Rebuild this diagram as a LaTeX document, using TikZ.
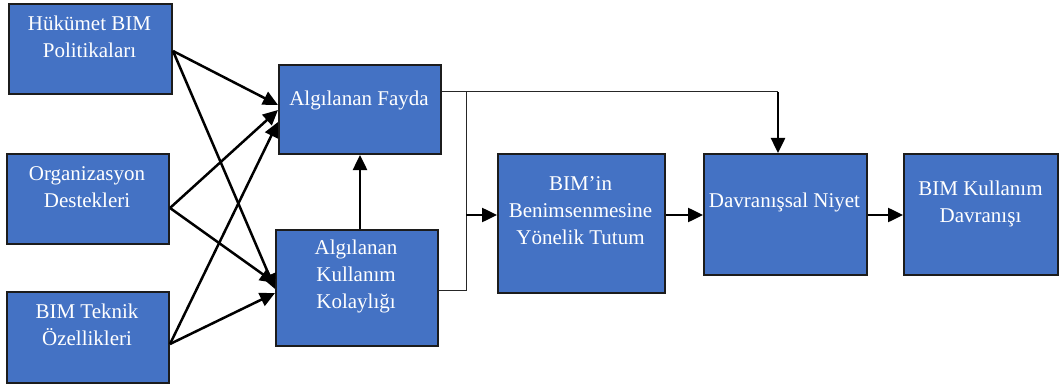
\documentclass[tikz,border=0pt]{standalone}
\usepackage{fontspec}
\setmainfont{Liberation Serif}
\usetikzlibrary{arrows.meta,calc}
\definecolor{boxblue}{HTML}{4472C4}
\definecolor{boxedge}{HTML}{1C1C1C}
\begin{document}
\begin{tikzpicture}[x=1pt,y=-1pt,
  blk/.style={draw=boxedge, line width=2pt, fill=boxblue, inner sep=0pt, anchor=north west},
  lbl/.style={text=white, font=\fontsize{21}{27}\selectfont, align=center, inner sep=0pt},
  flow/.style={line width=2.5pt, -{Triangle[length=15pt,width=14pt]}},
  thinline/.style={line width=1pt, draw=black!85}]
\path[use as bounding box] (0,0) rectangle (1060,385);

% boxes
\node[blk, minimum width=163pt, minimum height=90pt] (hb) at (8,3) {};
\node[blk, minimum width=162pt, minimum height=90pt] (od) at (6,153) {};
\node[blk, minimum width=162pt, minimum height=91pt] (bt) at (6,291) {};
\node[blk, minimum width=162pt, minimum height=89pt] (af) at (278,64) {};
\node[blk, minimum width=162pt, minimum height=116pt] (ak) at (275,229) {};
\node[blk, minimum width=167pt, minimum height=139pt] (tu) at (497,153) {};
\node[blk, minimum width=163pt, minimum height=121pt] (dn) at (703,153) {};
\node[blk, minimum width=154pt, minimum height=121pt] (bk) at (903,153) {};

% labels
\node[lbl] (hbt) at (89.5,36.5) {Hükümet BIM\\Politikaları};
\node[lbl] (odt) at (87,187.5) {Organizasyon\\Destekleri};
\node[lbl] (btt) at (87,325) {BIM Teknik\\Özellikleri};
\node[lbl] (aft) at (359,100) {Algılanan Fayda};
\node[lbl] (akt) at (356,276.5) {Algılanan\\Kullanım\\Kolaylığı};
\node[lbl] (tut) at (580.5,211) {BIM’in\\Benimsenmesine\\Yönelik Tutum};
\node[lbl] (dnt) at (784.5,202) {Davranışsal Niyet};
\node[lbl] (bkt) at (980.5,203.5) {BIM Kullanım\\Davranışı};

% external factors
\draw[flow] ($(hb.east)+(0,2)$) -- ($(af.west)+(0,-4.5)$);
\draw[flow] ($(hb.east)+(0,2)$) -- ($(ak.west)+(0,1)$);
\draw[flow] ($(od.east)+(0,9)$) -- ($(af.west)+(0,0.5)$);
\draw[flow] ($(od.east)+(0,9)$) -- ($(ak.west)+(0,-5)$);
\draw[flow] ($(bt.east)+(0,6.5)$) -- ($(af.west)+(0,12.5)$);
\draw[flow] ($(bt.east)+(0,6.5)$) -- ($(ak.west)+(0,5)$);

% ease of use -> usefulness
\draw[flow] (ak.north -| af.south) -- (af.south);

% junction towards attitude
\coordinate (jt) at (466,92);
\coordinate (jb) at (466,290);
\coordinate (jm) at (466,215);
\coordinate (drop) at (778,92);
\draw[thinline] (jt -| af.east) -- (drop);
\draw[thinline] (jt) -- (jb) -- (jb -| ak.east);
\draw[flow] (drop) -- (drop |- dn.north);

% main chain
\draw[flow] (jm) -- (tu.west |- jm);
\draw[flow] (tu.east |- jm) -- (dn.west |- jm);
\draw[flow] (dn.east |- jm) -- (bk.west |- jm);
\end{tikzpicture}
\end{document}
